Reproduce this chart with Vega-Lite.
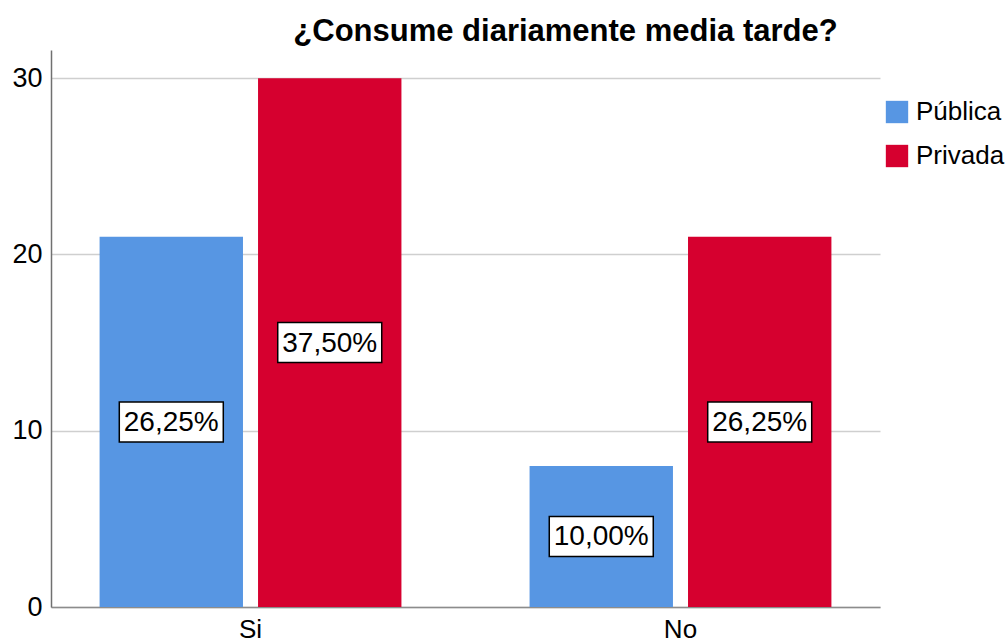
{
  "$schema": "https://vega.github.io/schema/vega-lite/v6.json",
  "autosize": "none",
  "width": 829,
  "height": 557,
  "padding": {"left": 51, "top": 50, "right": 128, "bottom": 37},
  "background": "white",
  "title": {
    "text": "¿Consume diariamente media tarde?",
    "font": "Liberation Sans",
    "fontSize": 31,
    "fontWeight": "bold",
    "color": "black",
    "anchor": "middle",
    "dx": 100,
    "dy": 30,
    "offset": 8,
    "baseline": "alphabetic"
  },
  "config": {
    "view": {"stroke": null},
    "font": "Liberation Sans"
  },
  "data": {
    "values": [
      {"respuesta": "Si", "institucion": "Pública", "valor": 21, "etiqueta": "26,25%"},
      {"respuesta": "Si", "institucion": "Privada", "valor": 30, "etiqueta": "37,50%"},
      {"respuesta": "No", "institucion": "Pública", "valor": 8, "etiqueta": "10,00%"},
      {"respuesta": "No", "institucion": "Privada", "valor": 21, "etiqueta": "26,25%"}
    ]
  },
  "transform": [{"calculate": "datum.valor / 2", "as": "medio"}],
  "encoding": {
    "x": {
      "field": "respuesta",
      "type": "nominal",
      "sort": ["Si", "No"],
      "scale": {"paddingInner": 0.298, "paddingOuter": 0.113},
      "axis": {
        "title": null,
        "labelAngle": 0,
        "labelFont": "Liberation Sans",
        "labelFontSize": 26,
        "labelColor": "black",
        "labelPadding": 9,
        "ticks": false,
        "domainColor": "#8c8c8c",
        "domainWidth": 1.5,
        "grid": false
      }
    },
    "xOffset": {
      "field": "institucion",
      "type": "nominal",
      "sort": ["Pública", "Privada"],
      "scale": {"paddingInner": 0.095, "paddingOuter": 0}
    }
  },
  "layer": [
    {
      "mark": {"type": "bar"},
      "encoding": {
        "y": {
          "field": "valor",
          "type": "quantitative",
          "scale": {"domain": [0, 31.6], "nice": false},
          "axis": {
            "title": null,
            "values": [0, 10, 20, 30],
            "labelFont": "Liberation Sans",
            "labelFontSize": 27,
            "labelColor": "black",
            "labelPadding": 9,
            "ticks": false,
            "domainColor": "#707070",
            "domainWidth": 1.5,
            "gridColor": "#cfcfcf",
            "gridWidth": 1.5
          }
        },
        "color": {
          "field": "institucion",
          "type": "nominal",
          "sort": ["Pública", "Privada"],
          "scale": {"domain": ["Pública", "Privada"], "range": ["#5796E3", "#D6002F"]},
          "legend": {
            "title": null,
            "orient": "none",
            "legendX": 833,
            "legendY": 49,
            "symbolType": "square",
            "symbolSize": 500,
            "symbolStrokeWidth": 0,
            "symbolOpacity": 1,
            "labelFont": "Liberation Sans",
            "labelFontSize": 26,
            "labelColor": "black",
            "labelOffset": 6,
            "rowPadding": 18,
            "padding": 0
          }
        }
      }
    },
    {
      "mark": {
        "type": "point",
        "shape": "M-1,-0.385H1V0.385H-1Z",
        "size": 10816,
        "filled": true,
        "fill": "white",
        "stroke": "black",
        "strokeWidth": 1.5,
        "opacity": 1
      },
      "encoding": {
        "y": {"field": "medio", "type": "quantitative"}
      }
    },
    {
      "mark": {
        "type": "text",
        "font": "Liberation Sans",
        "fontSize": 28,
        "color": "black",
        "baseline": "middle",
        "align": "center",
        "dy": 1
      },
      "encoding": {
        "y": {"field": "medio", "type": "quantitative"},
        "text": {"field": "etiqueta"}
      }
    }
  ]
}
